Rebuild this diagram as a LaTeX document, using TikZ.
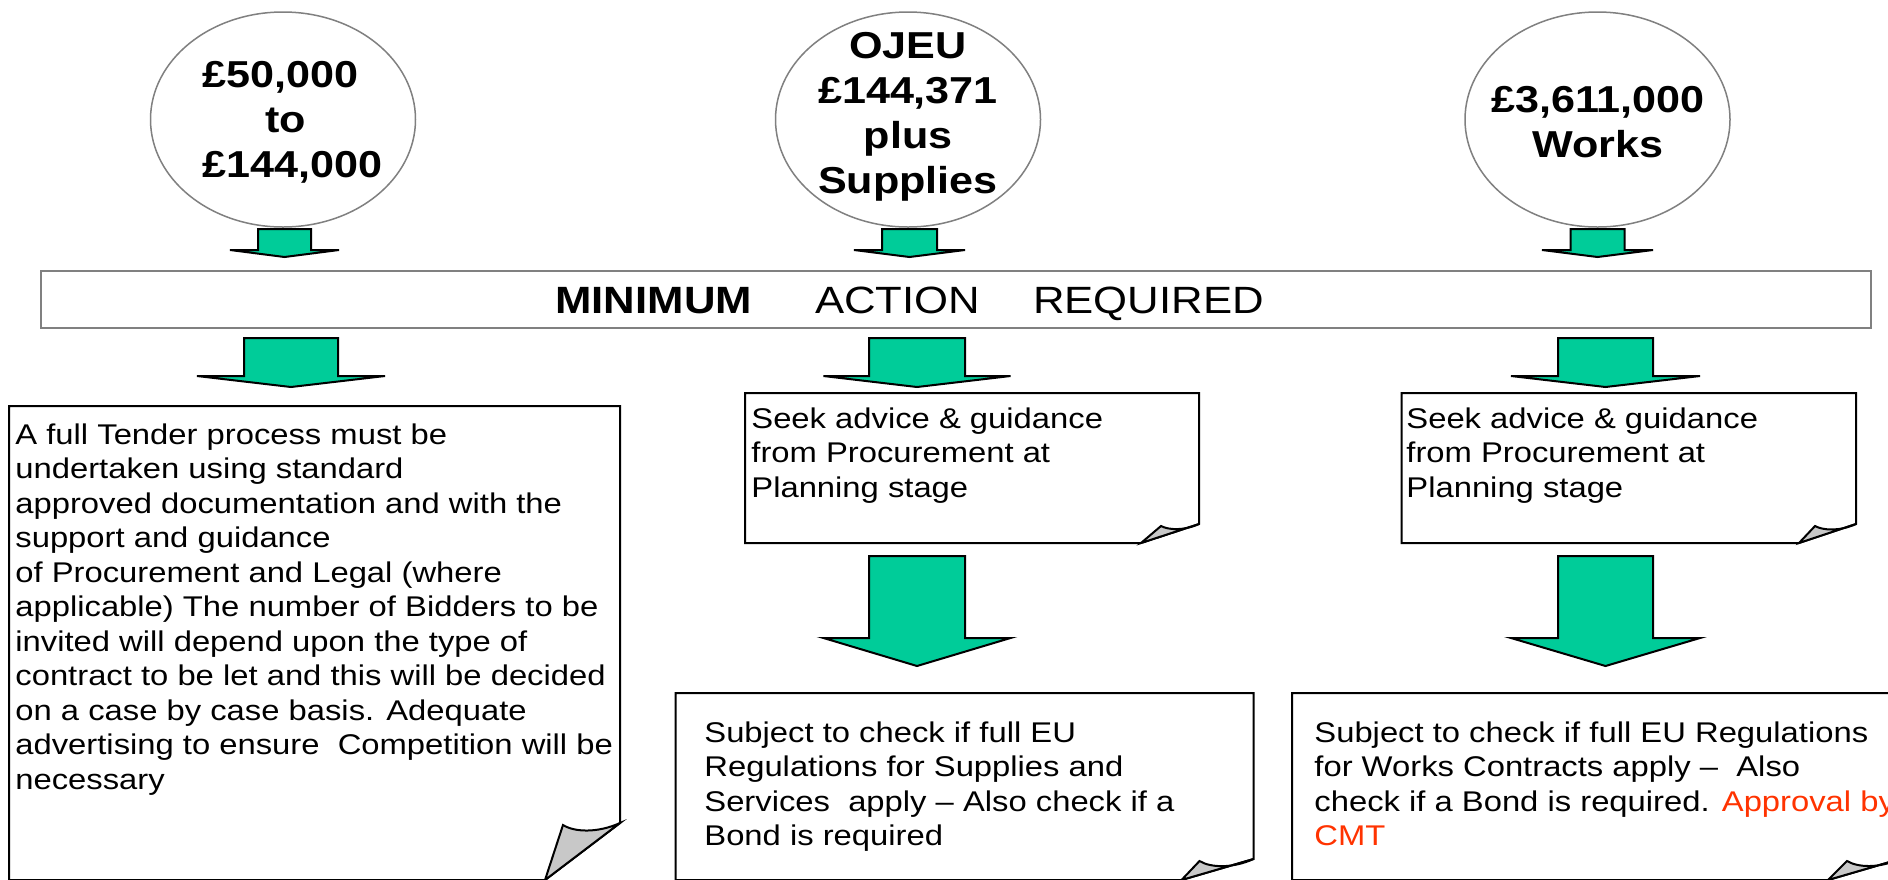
\documentclass[tikz,border=0pt]{standalone}
\usepackage{fontspec}
\setmainfont{Liberation Sans}[FakeStretch=1.15]
\usetikzlibrary{shapes.geometric}
\definecolor{arrowgreen}{HTML}{00CC99}
\definecolor{flapgray}{HTML}{C8C8C8}
\definecolor{ovalgray}{HTML}{808080}
\definecolor{redtext}{HTML}{FF3300}
\newcommand\bxfont{\fontsize{14.25pt}{17.25pt}\selectfont}
\newcommand\ovfont{\fontsize{18.75pt}{22.5pt}\selectfont\bfseries}
\newcommand\blockarrow[6]{% cx, top, shaft half, head half, head base, tip
  \draw[barrow] ({#1-#3},#2) -- ({#1+#3},#2) -- ({#1+#3},#5) -- ({#1+#4},#5) -- (#1,#6) -- ({#1-#4},#5) -- ({#1-#3},#5) -- cycle;}
\newcommand\foldbox[7]{% L T R B dx dy tip
  \draw[boxline,fill=white] (#1,#2) -- (#3,#2) -- (#3,{#4-#6}) -- ({#3-#5},#4) -- (#1,#4) -- cycle;
  \draw[boxline,fill=flapgray] (#3,{#4-#6}) .. controls ({#3-0.4*#7},{#4-#6+0.18*#7}) and ({#3-0.8*#7},{#4-#6+0.16*#7}) .. ({#3-#7},{#4-#6+2}) -- ({#3-#5},#4) -- cycle;}
\begin{document}
\begin{tikzpicture}[x=0.5pt,y=-0.5pt,
  bubble/.style={ellipse,draw=ovalgray,line width=0.75pt,fill=white,inner sep=0pt,minimum width=132.5pt,minimum height=107.5pt},
  ovtext/.style={inner sep=0pt,font=\ovfont},
  banner/.style={rectangle,draw=ovalgray,line width=1pt,fill=white,inner sep=0pt,minimum width=915pt,minimum height=28.5pt},
  boxline/.style={draw=black,line width=1pt,line join=miter},
  barrow/.style={draw=black,fill=arrowgreen,line width=1pt,line join=miter},
  bxtext/.style={inner sep=0pt,anchor=north west,align=left,font=\bxfont}]
\clip (0,0) rectangle (1888,879);
\fill[white] (0,0) rectangle (1888,879);

% bubbles
\node[bubble] (e1) at (283,119.5) {};
\node[bubble] (e2) at (908,119.5) {};
\node[bubble] (e3) at (1597.5,119.5) {};
\node[ovtext,anchor=north west,align=left] (t1) at (202,55) {\rule{0pt}{16pt}£50,000\\\hspace*{31.5pt}to\\£144,000};
\node[ovtext,anchor=north,align=center] (t2) at (908,26) {\rule{0pt}{16pt}OJEU\\£144,371\\plus\\Supplies};
\node[ovtext,anchor=north,align=center] (t3) at (1598,80) {\rule{0pt}{16pt}£3,611,000\\Works};

% small arrows
\blockarrow{284.5}{229}{26.5}{54.5}{250}{257}
\blockarrow{909.5}{229}{27.5}{55.5}{250}{257}
\blockarrow{1597.5}{229}{27}{55.5}{250}{257}

% banner
\node[banner] (ban) at (956,299.5) {};
\node[inner sep=0pt,anchor=base west,font=\fontsize{19pt}{22pt}\selectfont] (bantext) at (555,313) {\textbf{MINIMUM}\hspace{31.5pt}ACTION\hspace{26.5pt}REQUIRED};

% second row arrows
\blockarrow{291}{338}{47}{94}{376}{387}
\blockarrow{917}{338}{48}{93.5}{376}{387}
\blockarrow{1605.5}{338}{47.5}{94.5}{376}{387}

% boxes
\foldbox{9}{406}{620}{880}{75}{57}{57}
\foldbox{745}{393}{1199}{543}{58}{19}{38}
\foldbox{1401.5}{393}{1856}{543}{57}{19}{41}
\foldbox{675.5}{693}{1253.5}{880}{72}{21}{54}
\foldbox{1292}{693}{1900}{880}{72}{21}{53}

% third row arrows
\blockarrow{917}{556}{48}{93.5}{638}{666}
\blockarrow{1605.5}{556}{47.5}{94.5}{638}{666}

% texts
\node[bxtext] (lefttext) at (15,420) {\rule{0pt}{12pt}A full Tender process must be\\undertaken using standard\\approved documentation and with the\\support and guidance\\of Procurement and Legal (where\\applicable) The number of Bidders to be\\invited will depend upon the type of\\contract to be let and this will be decided\\on a case by case basis. Adequate\\advertising to ensure\ \ Competition will be\\necessary};
\node[bxtext] (midtop) at (751,404) {\rule{0pt}{12pt}Seek advice \& guidance\\from Procurement at\\Planning stage};
\node[bxtext] (righttop) at (1406,404) {\rule{0pt}{12pt}Seek advice \& guidance\\from Procurement at\\Planning stage};
\node[bxtext] (midbot) at (704,718) {\rule{0pt}{12pt}Subject to check if full EU\\Regulations for Supplies and\\Services\ \ apply – Also check if a\\Bond is required};
\node[bxtext] (rightbot) at (1314,718) {\rule{0pt}{12pt}Subject to check if full EU Regulations\\for Works Contracts apply –\ \ Also\\check if a Bond is required. {\color{redtext}Approval by}\\{\color{redtext}CMT}};
\end{tikzpicture}
\end{document}
